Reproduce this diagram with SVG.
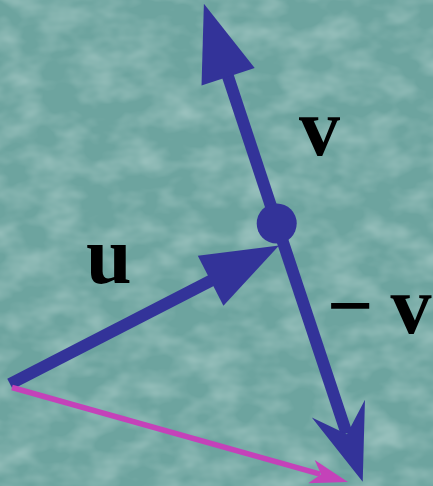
<svg xmlns="http://www.w3.org/2000/svg" width="433" height="486" viewBox="0 0 433 486">
  <style>
    .blue { stroke: #333399; stroke-width: 12; fill: none; stroke-linecap: butt; }
    .pink { stroke: #C442B9; stroke-width: 5.5; fill: none; stroke-linecap: butt; }
    .lbl { font-family: "Liberation Serif", "Times New Roman", serif; font-weight: bold; font-size: 82px; fill: #000000; }
  </style>
  <defs>
    <filter id="tex" x="0" y="0" width="100%" height="100%">
      <feTurbulence type="fractalNoise" baseFrequency="0.025 0.04" numOctaves="3" seed="7"/>
      <feColorMatrix type="matrix" values="0 0 0 0 0.75  0 0 0 0 0.88  0 0 0 0 0.86  0 0 0 0.7 -0.26"/>
    </filter>
    <marker id="headTri" markerUnits="userSpaceOnUse" orient="auto" markerWidth="80" markerHeight="60" viewBox="0 -30 80 60" refX="1" refY="0" overflow="visible">
      <path d="M0,-28 L77,0 L0,28 Z" fill="#333399"/>
    </marker>
    <marker id="headStealth" markerUnits="userSpaceOnUse" orient="auto" markerWidth="80" markerHeight="60" viewBox="0 -30 80 60" refX="26" refY="0" overflow="visible">
      <path d="M0,-28 L77,0 L0,28 L27,0 Z" fill="#333399"/>
    </marker>
    <marker id="headPink" markerUnits="userSpaceOnUse" orient="auto" markerWidth="40" markerHeight="30" viewBox="0 -15 40 30" refX="9" refY="0" overflow="visible">
      <path d="M0,-12 L38,0 L0,12 L10,0 Z" fill="#C442B9"/>
    </marker>
  </defs>

  <g id="background">
    <rect x="0" y="0" width="433" height="486" fill="#6DA49F"/>
    <rect x="0" y="0" width="433" height="486" filter="url(#tex)"/>
  </g>

  <g id="connectors">
    <line id="arrow-v" class="blue" x1="276.7" y1="223.3" x2="227.8" y2="75.8" marker-end="url(#headTri)"/>
    <line id="arrow-neg-v" class="blue" x1="276.7" y1="223.3" x2="346.6" y2="433.3" marker-end="url(#headStealth)"/>
    <line id="arrow-u" class="blue" x1="10" y1="384" x2="211.5" y2="280.3" marker-end="url(#headTri)"/>
    <line id="arrow-diff" class="pink" x1="12" y1="387.5" x2="320.1" y2="474.1" marker-end="url(#headPink)"/>
  </g>

  <g id="point">
    <circle cx="276.7" cy="223.5" r="20" fill="#333399"/>
  </g>

  <g id="label-v">
    <text class="lbl" x="299" y="155">v</text>
  </g>
  <g id="label-u">
    <text class="lbl" x="86" y="283" font-size="86">u</text>
  </g>
  <g id="label-neg-v">
    <text class="lbl" x="327" y="332.5">− <tspan x="390.5">v</tspan></text>
  </g>
</svg>
